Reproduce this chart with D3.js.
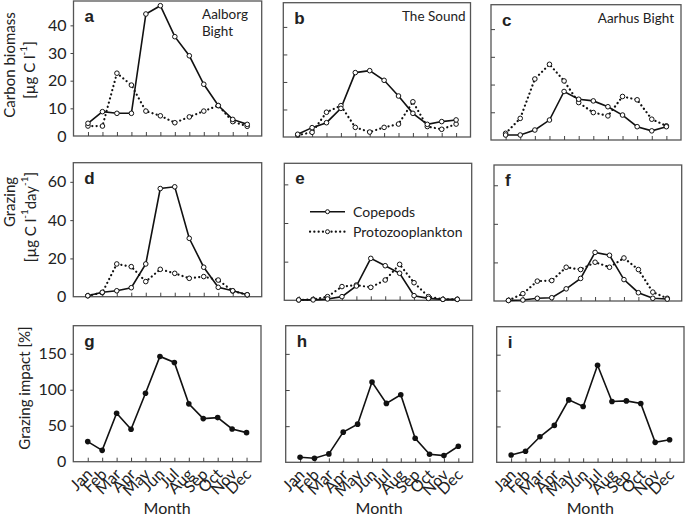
<!DOCTYPE html>
<html><head><meta charset="utf-8">
<script src="https://cdn.jsdelivr.net/npm/d3@7"></script>
<style>
body{margin:0;background:#fff;}
svg{display:block;}
text{font-family:Lato,"Open Sans",sans-serif;fill:#222;}
.plab{font-family:"Liberation Sans",Arial,sans-serif;font-weight:bold;}
</style></head><body>
<svg id="c" width="685" height="516"></svg>
<script>
const months = ["Jan","Feb","Mar","Apr","May","Jun","Jul","Aug","Sep","Oct","Nov","Dec"];

// Carbon biomass [µg C l-1]
const copeA  = [4.6, 8.8, 8.2, 8.2, 44.1, 47.1, 35.9, 29.0, 18.7, 11.0, 6.0, 4.2];
const protoA = [3.6, 3.6, 22.7, 18.4, 9.0, 7.3, 4.8, 6.9, 9.0, 11.0, 5.2, 3.5];
const copeB  = [1.0, 3.4, 5.2, 10.4, 23.4, 24.1, 20.6, 14.9, 8.6, 4.6, 5.6, 6.2];
const protoB = [0.7, 1.7, 9.0, 11.4, 3.5, 1.8, 3.5, 4.7, 12.8, 3.8, 2.8, 4.7];
const copeC  = [1.8, 1.8, 3.6, 7.2, 17.5, 14.7, 14.1, 12.0, 9.0, 4.8, 3.3, 4.8];
const protoC = [2.4, 7.8, 22.0, 27.3, 21.3, 13.5, 9.9, 8.7, 15.7, 14.5, 7.5, 5.1];

// Grazing [µg C l-1 day-1]
const copeD  = [0.5, 2.3, 3.1, 4.7, 17.1, 56.5, 57.4, 30.5, 15.4, 4.9, 3.1, 1.0];
const protoD = [0.5, 2.1, 17.1, 15.7, 7.9, 14.3, 12.2, 9.6, 10.5, 8.7, 3.0, 1.0];
const copeE  = [0.2, 0.2, 0.7, 1.9, 7.4, 21.7, 17.9, 14.0, 2.4, 1.0, 0.5, 0.5];
const protoE = [0.2, 0.5, 1.9, 7.1, 7.9, 6.7, 10.5, 18.6, 9.1, 1.9, 0.5, 0.5];
const copeF  = [0.3, 0.5, 1.4, 1.7, 6.3, 11.7, 25.2, 23.7, 11.1, 4.3, 1.4, 1.0];
const protoF = [0.3, 3.8, 10.3, 10.6, 17.5, 16.3, 20.1, 17.5, 22.3, 16.3, 4.6, 1.4];

// Grazing impact [%]
const impactG = [27.9, 15.8, 67.3, 45.1, 95.2, 146.3, 137.9, 80.4, 59.9, 61.3, 45.5, 40.4];
const impactH = [6.9, 5.6, 11.6, 41.7, 52.8, 111.1, 81.5, 93.5, 33.3, 11.1, 9.3, 22.2];
const impactI = [10.2, 15.3, 35.6, 51.4, 87.0, 77.8, 135.2, 84.7, 85.6, 81.9, 27.8, 31.5];

const ticksBiomass = [0, 10, 20, 30, 40];
const ticksGrazing = [0, 20, 40, 60];
const ticksImpact  = [0, 50, 100, 150];

const svg = d3.select("#c");

const panels = [
  {id:"a", l:73.5, r:261.7, t:1,     b:136,   max:48.8, ticks:ticksBiomass, labels:true,  series:[copeA, protoA], title:["Aalborg","Bight"], tx:202, anchor:"start"},
  {id:"b", l:283.3,r:470.5, t:2.7,   b:137,   max:48.8, ticks:ticksBiomass, labels:false, series:[copeB, protoB], title:["The Sound"], tx:402, anchor:"start"},
  {id:"c", l:491,  r:681,   t:4.7,   b:140,   max:48.8, ticks:ticksBiomass, labels:false, series:[copeC, protoC], title:["Aarhus Bight"], tx:674, anchor:"end"},
  {id:"d", l:73.3, r:261.7, t:162.7, b:296.7, max:70, ticks:ticksGrazing, labels:true,  series:[copeD, protoD]},
  {id:"e", l:284.3,r:471.7, t:163.3, b:300.3, max:70.9, ticks:ticksGrazing, labels:false, series:[copeE, protoE], legend:true},
  {id:"f", l:494,  r:681.7, t:165,   b:301,   max:70.5, ticks:ticksGrazing, labels:false, series:[copeF, protoF]},
  {id:"g", l:73.3, r:261,   t:325.7, b:461.7, max:189, ticks:ticksImpact, labels:true,  impact:impactG, xlab:true},
  {id:"h", l:285.7,r:472.7, t:325.7, b:462.3, max:189, ticks:ticksImpact, labels:false, impact:impactH, xlab:true},
  {id:"i", l:496.7,r:684,   t:326.7, b:462.3, max:189, ticks:ticksImpact, labels:false, impact:impactI, xlab:true}
];

panels.forEach(p => {
  const x = d3.scalePoint().domain(months).range([p.l, p.r]).padding(1);
  const y = d3.scaleLinear().domain([0, p.max]).range([p.b, p.t]);
  const g = svg.append("g");

  // frame
  g.append("rect").attr("x", p.l).attr("y", p.t).attr("width", p.r - p.l).attr("height", p.b - p.t)
    .attr("fill", "none").attr("stroke", "#555").attr("stroke-width", 1.3);

  // y axis
  const ya = p.labels ? d3.axisLeft(y).tickValues(p.ticks).tickSize(3).tickPadding(4)
                      : d3.axisRight(y).tickValues(p.ticks).tickSize(4).tickFormat("");
  const yg = g.append("g").attr("transform", `translate(${p.l},0)`).call(ya);
  yg.select(".domain").remove();
  yg.selectAll(".tick line").attr("stroke", "#444");
  yg.selectAll(".tick").filter(d => d === 0).select("line").remove();
  yg.selectAll("text").style("font-family", "Lato, sans-serif").style("font-size", "16px").attr("fill", "#222");

  // x axis (ticks pointing inward)
  const xa = d3.axisTop(x).tickSize(4).tickFormat("");
  const xg = g.append("g").attr("transform", `translate(0,${p.b})`).call(xa);
  xg.select(".domain").remove();
  xg.selectAll(".tick line").attr("stroke", "#444");

  if (p.xlab) {
    months.forEach(m => {
      g.append("text")
        .attr("transform", `translate(${x(m) + 1},${p.b + 9}) rotate(-45)`)
        .attr("text-anchor", "end").attr("dominant-baseline", "central")
        .style("font-size", "16px").text(m);
    });
    g.append("text").attr("x", (p.l + p.r) / 2).attr("y", 514)
      .attr("text-anchor", "middle").style("font-size", "16px").text("Month");
  }

  // panel letter
  g.append("text").attr("class", "plab").attr("x", p.l + 11).attr("y", p.t + 21)
    .style("font-size", "17px").attr("fill", "#111").text(p.id);

  if (p.title) {
    p.title.forEach((s, i) => {
      g.append("text").attr("x", p.tx).attr("y", p.t + 18 + i * 17)
        .attr("text-anchor", p.anchor).style("font-size", "13.5px").text(s);
    });
  }

  if (p.series) {
    const line = d3.line().x((d, i) => x(months[i])).y(d => y(d));
    // protozooplankton (dotted)
    g.append("path").datum(p.series[1]).attr("d", line).attr("fill", "none")
      .attr("stroke", "#111").attr("stroke-width", 2.2).attr("stroke-linecap", "round")
      .attr("stroke-dasharray", "0.1,4.2");
    // copepods (solid)
    g.append("path").datum(p.series[0]).attr("d", line).attr("fill", "none")
      .attr("stroke", "#111").attr("stroke-width", 1.6);
    [p.series[1], p.series[0]].forEach(s => {
      g.selectAll(null).data(s).enter().append("circle")
        .attr("cx", (d, i) => x(months[i])).attr("cy", d => y(d)).attr("r", 2.3)
        .attr("fill", "#fff").attr("stroke", "#111").attr("stroke-width", 1);
    });
  }

  if (p.impact) {
    const line = d3.line().x((d, i) => x(months[i])).y(d => y(d));
    g.append("path").datum(p.impact).attr("d", line).attr("fill", "none")
      .attr("stroke", "#111").attr("stroke-width", 1.6);
    g.selectAll(null).data(p.impact).enter().append("circle")
      .attr("cx", (d, i) => x(months[i])).attr("cy", d => y(d)).attr("r", 2.8)
      .attr("fill", "#111");
  }

  if (p.legend) {
    const ly1 = 211.7, ly2 = 231.7, lx0 = 310, lx1 = 345;
    g.append("line").attr("x1", lx0).attr("x2", lx1).attr("y1", ly1).attr("y2", ly1)
      .attr("stroke", "#111").attr("stroke-width", 1.6);
    g.append("circle").attr("cx", (lx0 + lx1) / 2).attr("cy", ly1).attr("r", 2)
      .attr("fill", "#fff").attr("stroke", "#111");
    g.append("line").attr("x1", lx0).attr("x2", lx1).attr("y1", ly2).attr("y2", ly2)
      .attr("stroke", "#111").attr("stroke-width", 2.2).attr("stroke-linecap", "round")
      .attr("stroke-dasharray", "0.1,4.2");
    g.append("circle").attr("cx", (lx0 + lx1) / 2).attr("cy", ly2).attr("r", 2)
      .attr("fill", "#fff").attr("stroke", "#111");
    g.append("text").attr("x", 353).attr("y", ly1).attr("dominant-baseline", "central")
      .style("font-size", "14px").text("Copepods");
    g.append("text").attr("x", 353).attr("y", ly2).attr("dominant-baseline", "central")
      .style("font-size", "14px").text("Protozooplankton");
  }
});

// y axis titles
function vtext(x, y, build) {
  const t = svg.append("text").attr("transform", `translate(${x},${y}) rotate(-90)`)
    .attr("text-anchor", "middle").attr("dominant-baseline", "central").style("font-size", "15px");
  build(t);
}
vtext(9, 65, t => t.text("Carbon biomass"));
vtext(29, 70, t => {
  t.append("tspan").text("[µg C l");
  t.append("tspan").attr("baseline-shift", "super").style("font-size", "10px").text("-1");
  t.append("tspan").text("]");
});
vtext(9, 202, t => t.text("Grazing"));
vtext(30, 217, t => {
  t.append("tspan").text("[µg C l");
  t.append("tspan").attr("baseline-shift", "super").style("font-size", "10px").text("-1");
  t.append("tspan").text("day");
  t.append("tspan").attr("baseline-shift", "super").style("font-size", "10px").text("-1");
  t.append("tspan").text("]");
});
vtext(24, 388, t => t.text("Grazing impact [%]"));
</script>
</body></html>
